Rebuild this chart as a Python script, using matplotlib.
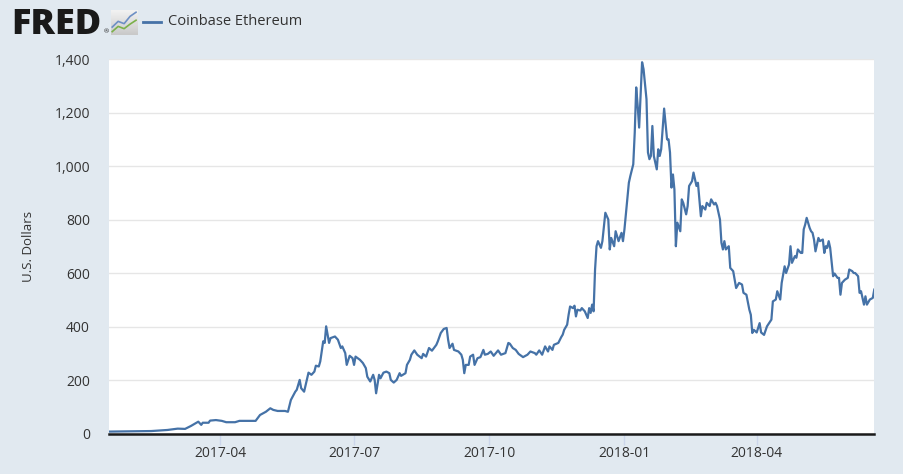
import matplotlib
matplotlib.use("Agg")
import matplotlib.pyplot as plt
import matplotlib.dates as mdates
import matplotlib.ticker as mticker
import numpy as np
import pandas as pd

# =============================================================================
# DATA  (Coinbase Ethereum, USD)
# =============================================================================

dates_2017_h1 = [
    "2017-01-16", "2017-02-13", "2017-02-24", "2017-03-03", "2017-03-08",
    "2017-03-12", "2017-03-17", "2017-03-19", "2017-03-20", "2017-03-24",
    "2017-03-25", "2017-03-29", "2017-04-02", "2017-04-05", "2017-04-11",
    "2017-04-14", "2017-04-25", "2017-04-28", "2017-04-30", "2017-05-02",
    "2017-05-05", "2017-05-07", "2017-05-10", "2017-05-15", "2017-05-17",
    "2017-05-19", "2017-05-22", "2017-05-23", "2017-05-25", "2017-05-26",
    "2017-05-28", "2017-05-31", "2017-06-02", "2017-06-04", "2017-06-05",
    "2017-06-07", "2017-06-08", "2017-06-10", "2017-06-11", "2017-06-12",
    "2017-06-14", "2017-06-15", "2017-06-18", "2017-06-20", "2017-06-22",
    "2017-06-23", "2017-06-25", "2017-06-26", "2017-06-28", "2017-06-30",
]
values_2017_h1 = [
    9, 11, 15, 20, 19,
    30, 46, 34, 42, 42,
    50, 52, 49, 44, 44,
    49, 49, 71, 77, 83,
    96, 90, 86, 86, 83,
    127, 158, 165, 202, 171,
    158, 229, 221, 233, 255,
    252, 271, 346, 340, 402,
    340, 358, 364, 352, 321,
    327, 302, 258, 292, 283,
]

dates_2017_h2 = [
    "2017-07-01", "2017-07-02", "2017-07-05", "2017-07-07", "2017-07-09",
    "2017-07-10", "2017-07-12", "2017-07-14", "2017-07-15", "2017-07-16",
    "2017-07-18", "2017-07-19", "2017-07-21", "2017-07-23", "2017-07-25",
    "2017-07-26", "2017-07-28", "2017-07-30", "2017-08-01", "2017-08-02",
    "2017-08-05", "2017-08-06", "2017-08-08", "2017-08-09", "2017-08-11",
    "2017-08-13", "2017-08-16", "2017-08-17", "2017-08-19", "2017-08-21",
    "2017-08-23", "2017-08-26", "2017-08-27", "2017-08-29", "2017-08-31",
    "2017-09-02", "2017-09-03", "2017-09-04", "2017-09-06", "2017-09-07",
    "2017-09-10", "2017-09-12", "2017-09-13", "2017-09-14", "2017-09-15",
    "2017-09-17", "2017-09-18", "2017-09-20", "2017-09-21", "2017-09-23",
    "2017-09-25", "2017-09-27", "2017-09-28", "2017-09-30", "2017-10-02",
    "2017-10-04", "2017-10-07", "2017-10-09", "2017-10-12", "2017-10-14",
    "2017-10-15", "2017-10-17", "2017-10-19", "2017-10-21", "2017-10-24",
    "2017-10-27", "2017-10-29", "2017-11-01", "2017-11-02", "2017-11-04",
    "2017-11-06", "2017-11-08", "2017-11-10", "2017-11-11", "2017-11-13",
    "2017-11-14", "2017-11-17", "2017-11-19", "2017-11-20", "2017-11-21",
    "2017-11-23", "2017-11-24", "2017-11-25", "2017-11-27", "2017-11-28",
    "2017-11-29", "2017-11-30", "2017-12-02", "2017-12-03", "2017-12-05",
    "2017-12-07", "2017-12-08", "2017-12-09", "2017-12-10", "2017-12-11",
    "2017-12-12", "2017-12-13", "2017-12-14", "2017-12-16", "2017-12-17",
    "2017-12-19", "2017-12-21", "2017-12-22", "2017-12-23", "2017-12-25",
    "2017-12-26", "2017-12-28", "2017-12-30", "2017-12-31",
]
values_2017_h2 = [
    258, 289, 277, 265, 246,
    214, 196, 221, 202, 152,
    221, 208, 229, 233, 227,
    202, 192, 202, 227, 217,
    227, 258, 277, 296, 312,
    296, 283, 299, 289, 321,
    311, 333, 346, 377, 392,
    396, 352, 321, 337, 314,
    308, 296, 277, 227, 258,
    258, 289, 296, 258, 283,
    287, 314, 296, 299, 308,
    292, 312, 296, 302, 340,
    337, 321, 314, 299, 287,
    296, 308, 302, 296, 312,
    296, 327, 308, 327, 314,
    333, 340, 362, 371, 389,
    408, 445, 476, 470, 479,
    439, 464, 461, 470, 458,
    433, 470, 452, 483, 458,
    614, 701, 720, 695, 720,
    826, 801, 689, 732, 701,
    757, 720, 751, 720,
]

dates_2018 = [
    "2018-01-01", "2018-01-04", "2018-01-05", "2018-01-07", "2018-01-08",
    "2018-01-09", "2018-01-10", "2018-01-11", "2018-01-13", "2018-01-14",
    "2018-01-16", "2018-01-17", "2018-01-18", "2018-01-19", "2018-01-20",
    "2018-01-21", "2018-01-23", "2018-01-24", "2018-01-25", "2018-01-26",
    "2018-01-28", "2018-01-30", "2018-01-31", "2018-02-01", "2018-02-02",
    "2018-02-03", "2018-02-04", "2018-02-05", "2018-02-06", "2018-02-08",
    "2018-02-09", "2018-02-10", "2018-02-12", "2018-02-13", "2018-02-14",
    "2018-02-16", "2018-02-17", "2018-02-19", "2018-02-20", "2018-02-22",
    "2018-02-23", "2018-02-25", "2018-02-26", "2018-02-28", "2018-03-01",
    "2018-03-03", "2018-03-04", "2018-03-05", "2018-03-07", "2018-03-08",
    "2018-03-09", "2018-03-10", "2018-03-11", "2018-03-13", "2018-03-14",
    "2018-03-16", "2018-03-18", "2018-03-20", "2018-03-22", "2018-03-23",
    "2018-03-25", "2018-03-27", "2018-03-28", "2018-03-29", "2018-03-30",
    "2018-04-01", "2018-04-03", "2018-04-04", "2018-04-06", "2018-04-08",
    "2018-04-11", "2018-04-12", "2018-04-14", "2018-04-15", "2018-04-17",
    "2018-04-18", "2018-04-20", "2018-04-21", "2018-04-23", "2018-04-24",
    "2018-04-25", "2018-04-27", "2018-04-28", "2018-04-29", "2018-05-01",
    "2018-05-02", "2018-05-03", "2018-05-04", "2018-05-05", "2018-05-07",
    "2018-05-08", "2018-05-09", "2018-05-10", "2018-05-11", "2018-05-13",
    "2018-05-14", "2018-05-16", "2018-05-17", "2018-05-18", "2018-05-19",
    "2018-05-20", "2018-05-21", "2018-05-23", "2018-05-24", "2018-05-26",
    "2018-05-27", "2018-05-28", "2018-05-29", "2018-05-31", "2018-06-02",
    "2018-06-03", "2018-06-05", "2018-06-06", "2018-06-07", "2018-06-09",
    "2018-06-10", "2018-06-11", "2018-06-13", "2018-06-14", "2018-06-15",
    "2018-06-17", "2018-06-19", "2018-06-20",
]
values_2018 = [
    764, 938, 963, 1007, 1125,
    1294, 1225, 1144, 1388, 1362,
    1250, 1051, 1026, 1038, 1150,
    1038, 988, 1063, 1038, 1063,
    1215, 1100, 1100, 1051, 920,
    969, 913, 701, 789, 757,
    876, 863, 820, 851, 926,
    944, 976, 926, 938, 813,
    851, 838, 863, 851, 876,
    857, 863, 851, 801, 714,
    689, 720, 689, 701, 620,
    608, 545, 564, 558, 527,
    520, 464, 445, 377, 389,
    379, 414, 379, 370, 402,
    427, 495, 502, 533, 502,
    564, 626, 601, 633, 701,
    639, 664, 658, 689, 676,
    676, 764, 782, 807, 770,
    757, 751, 726, 682, 732,
    720, 726, 676, 701, 695,
    720, 695, 589, 599, 583,
    583, 520, 564, 576, 583,
    614, 608, 601, 601, 589,
    527, 533, 483, 514, 483,
    502, 508, 539,
]

series_name = "Coinbase Ethereum"
y_label = "U.S. Dollars"
x_start, x_end = "2017-01-15", "2018-06-20"
x_tick_dates = ["2017-04-01", "2017-07-01", "2017-10-01", "2018-01-01", "2018-04-01"]
y_ticks = [0, 200, 400, 600, 800, 1000, 1200, 1400]

# =============================================================================
# STYLE
# =============================================================================

BG       = "#e1e9f0"
LINE     = "#4572a7"
GRID     = "#e6e6e6"
TXT      = "#333333"
TICKMARK = "#ccd6eb"

plt.rcParams['font.family'] = ['Open Sans', 'DejaVu Sans']

dates  = pd.to_datetime(dates_2017_h1 + dates_2017_h2 + dates_2018)
values = values_2017_h1 + values_2017_h2 + values_2018

fig = plt.figure(figsize=(9.04, 4.74), dpi=100, facecolor=BG)
ax  = fig.add_axes([0.1202, 0.0844, 0.8469, 0.7911])
ax.set_facecolor("white")

ax.plot(dates, values, color=LINE, linewidth=1.6, solid_joinstyle="round", zorder=3)

# Axes limits & ticks
ax.set_xlim(pd.Timestamp(x_start), pd.Timestamp(x_end))
ax.set_ylim(0, 1400)
ax.set_yticks(y_ticks)
ax.yaxis.set_major_formatter(mticker.FuncFormatter(lambda v, p: f"{int(v):,}"))
ax.set_xticks(pd.to_datetime(x_tick_dates))
ax.xaxis.set_major_formatter(mdates.DateFormatter("%Y-%m"))

ax.grid(axis="y", color=GRID, linewidth=1.0, zorder=0)
ax.grid(axis="x", visible=False)

for side in ["top", "right", "left"]:
    ax.spines[side].set_visible(False)
ax.spines["bottom"].set_color("#1a1a1a")
ax.spines["bottom"].set_linewidth(1.8)
ax.spines["bottom"].set_zorder(4)

ax.tick_params(axis="y", length=0, pad=13.5, labelsize=10, labelcolor=TXT)
ax.tick_params(axis="x", length=8, width=1, color=TICKMARK, pad=0.5,
               labelsize=10, labelcolor=TXT)

ax.set_ylabel(y_label, fontsize=9.5, color=TXT, labelpad=14)

# =============================================================================
# HEADER: FRED logo, icon, legend
# =============================================================================

fig.text(0.012, 0.985, "FRED", fontsize=26, fontweight="heavy",
         color="#1a1a1a", va="top", ha="left")
fig.text(0.1148, 0.927, "®", fontsize=4.5, color="#1a1a1a", va="bottom", ha="left")

icon = fig.add_axes([0.1228, 0.926, 0.029, 0.053])
grad = np.linspace(1.0, 0.0, 50).reshape(-1, 1)
icon.imshow(grad, cmap=matplotlib.colors.LinearSegmentedColormap.from_list(
    "g", ["#c9c9c9", "#f4f4f4"]), aspect="auto", extent=(-0.2, 4.2, -0.1, 1.0))
icon.plot([0, 1, 2, 3, 4], [0.25, 0.5, 0.4, 0.72, 0.9], color="#6d8fc4", linewidth=1.2)
icon.plot([0, 1, 2, 3, 4], [0.05, 0.28, 0.18, 0.38, 0.55], color="#7bb04a", linewidth=1.2)
icon.set_xlim(-0.2, 4.2)
icon.set_ylim(-0.1, 1.0)
icon.set_xticks([])
icon.set_yticks([])
for s in icon.spines.values():
    s.set_visible(False)

fig.add_artist(plt.Line2D([0.158, 0.178], [0.954, 0.954], color=LINE,
                          linewidth=2.0, transform=fig.transFigure))
fig.text(0.186, 0.954, series_name, fontsize=10.5, color=TXT, va="center", ha="left")

fig.savefig("out.png", dpi=100, facecolor=BG)
